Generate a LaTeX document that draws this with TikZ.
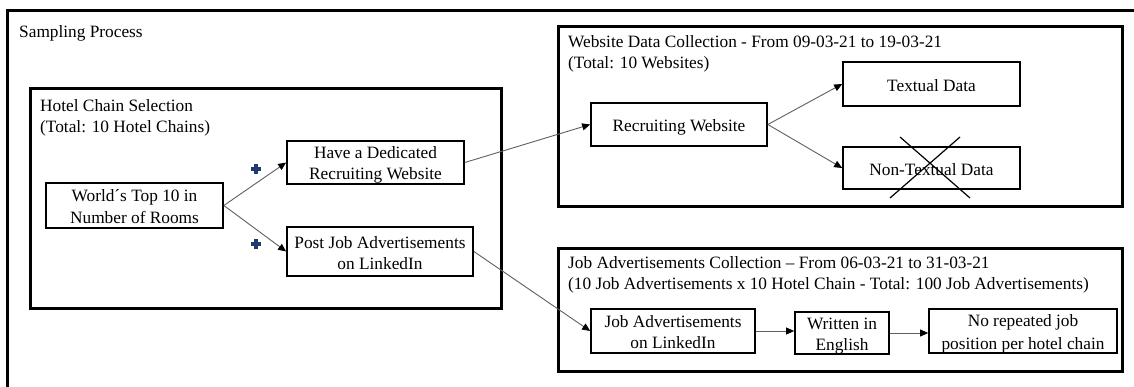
\documentclass[tikz,border=0pt]{standalone}
\usepackage{fontspec}
\setmainfont{Liberation Serif}
\usetikzlibrary{arrows.meta}
\definecolor{navy}{HTML}{1F3A70}
\definecolor{conn}{HTML}{606060}
\newcommand\stt{\rule[-3.3pt]{0pt}{21pt}}
\begin{document}
\begin{tikzpicture}[x=1pt,y=-1pt,
  every node/.style={font=\fontsize{17.3}{21}\selectfont},
  grp/.style={draw, line width=3pt, inner sep=0pt},
  box/.style={draw, line width=1.7pt, inner sep=0pt, align=center},
  title/.style={anchor=north west, inner sep=0pt, align=left},
  arr/.style={draw=conn, line width=0.9pt, -{Triangle[length=8pt,width=7pt,color=black]}},
  plus/.style={draw=navy, line width=3.4pt},
  crossline/.style={draw=black, line width=1.2pt},
]
\useasboundingbox (0,0) rectangle (1134,387);
\fill[white] (0,0) rectangle (1134,387);
% outer frame (continues beyond the picture)
\draw[line width=3pt] (7.5,400) |- (1140,10.5);
\node[title] (sp) at (19,19.3) {\stt Sampling Process};

% group boxes
\node[grp, minimum width=471pt, minimum height=219pt] (hotel) at (265.5,198.5) {};
\node[grp, minimum width=564pt, minimum height=180pt] (web) at (840,117) {};
\node[grp, minimum width=564pt, minimum height=122pt] (jobc) at (840,310) {};

\node[title] (hoteltitle) at (40,93.3) {\stt Hotel Chain Selection\\\stt (Total: 10 Hotel Chains)};
\node[title] (webtitle) at (568,29.3) {\stt Website Data Collection - From 09-03-21 to 19-03-21\\\stt (Total: 10 Websites)};
\node[title] (jobtitle) at (568,250.3) {\stt Job Advertisements Collection – From 06-03-21 to 31-03-21\\\stt (10 Job Advertisements x 10 Hotel Chain - Total: 100 Job Advertisements)};

% inner boxes
\node[box, minimum width=177pt, minimum height=45pt] (world) at (134.5,205.5) {\stt World´s Top 10 in\\\stt Number of Rooms};
\node[box, minimum width=177pt, minimum height=43pt] (have) at (375.5,162.5) {\stt Have a Dedicated\\\stt Recruiting Website};
\node[box, minimum width=186pt, minimum height=49pt] (post) at (380,251.5) {\stt Post Job Advertisements\\\stt on LinkedIn};
\node[box, minimum width=176pt, minimum height=43pt] (recruit) at (679,124.5) {\stt Recruiting Website};
\node[box, minimum width=177pt, minimum height=44pt] (textual) at (931.5,84) {\stt Textual Data};
\node[box, minimum width=177pt, minimum height=42pt] (nontext) at (931.5,168) {\stt Non-Textual Data};
\node[box, minimum width=164pt, minimum height=44pt] (jobli) at (673,331) {\stt Job Advertisements\\\stt on LinkedIn};
\node[box, minimum width=94pt, minimum height=42pt] (written) at (842,333) {\stt Written in\\\stt English};
\node[box, minimum width=188pt, minimum height=44pt] (norep) at (1023,331) {\stt No repeated job\\\stt position per hotel chain};

% cross over non-textual data
\draw[crossline] (900,137) -- (970,198);
\draw[crossline] (960,137) -- (890,198);

% plus signs
\draw[plus] (256,169) +(-4.8,0) -- +(4.8,0) +(0,-4.8) -- +(0,4.8);
\draw[plus] (256,244) +(-4.8,0) -- +(4.8,0) +(0,-4.8) -- +(0,4.8);

% connectors
\draw[arr] (world.east) -- (have.west);
\draw[arr] (world.east) -- (post.west);
\draw[arr] (have.east) -- (recruit.west);
\draw[arr] (post.east) -- (jobli.west);
\draw[arr] (recruit.east) -- (textual.west);
\draw[arr] (recruit.east) -- (nontext.west);
\draw[arr] (jobli.east) -- (jobli.east -| written.west);
\draw[arr] (written.east) -- (written.east -| norep.west);
\end{tikzpicture}
\end{document}
